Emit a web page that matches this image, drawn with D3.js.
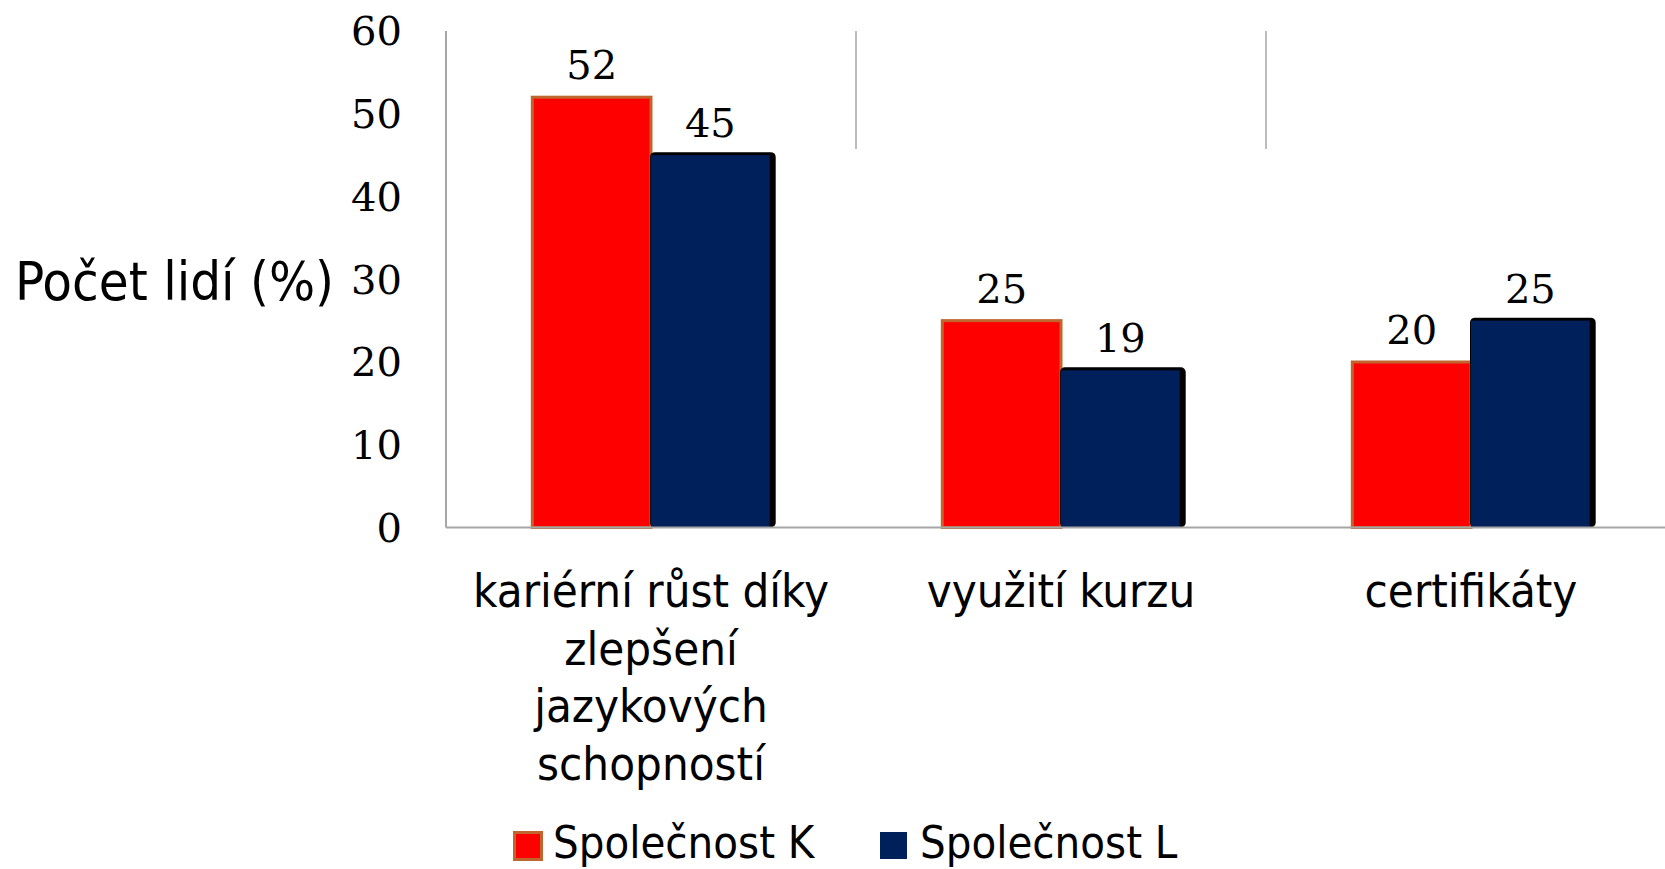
<!DOCTYPE html>
<html>
<head>
<meta charset="utf-8">
<script src="https://cdn.jsdelivr.net/npm/d3@7"></script>
<style>
  body { margin: 0; background: #fff; }
  .sans { font-family: "DejaVu Sans Condensed", "DejaVu Sans", sans-serif; font-stretch: condensed; }
  .num { font-family: "DejaVu Serif", "Liberation Serif", serif; }
</style>
</head>
<body>
<div id="chart"></div>
<script>
const categories = [
  ['kariérní růst díky', 'zlepšení', 'jazykových', 'schopností'],
  ['využití kurzu'],
  ['certifikáty']
];
const seriesNames = ['Společnost K', 'Společnost L'];
const valuesK = [52, 25, 20];
const valuesL = [45, 19, 25];
const yTicks = [0, 10, 20, 30, 40, 50, 60];

const width = 1665;
const height = 869;
const margin = { top: 31, bottom: 341.5, left: 446, right: -11 };

const svg = d3.select('#chart')
  .append('svg')
  .attr('width', width)
  .attr('height', height);

const x = d3.scaleBand()
  .domain(d3.range(categories.length))
  .range([margin.left, width - margin.right])
  .paddingInner(0)
  .paddingOuter(0);

const x1 = d3.scaleBand()
  .domain([0, 1])
  .range([0, x.bandwidth()])
  .paddingOuter(0.727)
  .paddingInner(0);

const y = d3.scaleLinear()
  .domain([0, 60])
  .range([height - margin.bottom, margin.top]);

const base = y(0);

// partial vertical lines between categories
svg.append('g')
  .selectAll('line')
  .data(d3.range(1, categories.length))
  .join('line')
    .attr('x1', i => x(i))
    .attr('x2', i => x(i))
    .attr('y1', margin.top)
    .attr('y2', 149)
    .attr('stroke', '#a6a6a6')
    .attr('stroke-width', 1.5);

// y axis line
svg.append('line')
  .attr('x1', margin.left).attr('x2', margin.left)
  .attr('y1', margin.top).attr('y2', base)
  .attr('stroke', '#a6a6a6')
  .attr('stroke-width', 2);

// y tick labels
svg.append('g')
  .attr('class', 'num')
  .selectAll('text')
  .data(yTicks)
  .join('text')
    .attr('x', 402)
    .attr('y', d => y(d))
    .attr('dy', '0.36em')
    .attr('text-anchor', 'end')
    .attr('font-size', 40)
    .text(d => d);

// series K
const gK = svg.append('g');
gK.selectAll('rect')
  .data(valuesK)
  .join('rect')
    .attr('x', (d, i) => x(i) + x1(0))
    .attr('y', d => y(d))
    .attr('width', x1.bandwidth())
    .attr('height', d => base - y(d))
    .attr('fill', '#ff0000')
    .attr('stroke', '#c0652e')
    .attr('stroke-width', 3);

// series L with dark shadow edge
const gL = svg.append('g');
gL.selectAll('rect.shadow')
  .data(valuesL)
  .join('rect')
    .attr('class', 'shadow')
    .attr('x', (d, i) => x(i) + x1(1) - 1)
    .attr('y', d => y(d) - 3)
    .attr('width', x1.bandwidth() + 7)
    .attr('height', d => base - y(d) + 3)
    .attr('rx', 5)
    .attr('fill', '#000');
gL.selectAll('rect.bar')
  .data(valuesL)
  .join('rect')
    .attr('class', 'bar')
    .attr('x', (d, i) => x(i) + x1(1))
    .attr('y', d => y(d))
    .attr('width', x1.bandwidth())
    .attr('height', d => base - y(d))
    .attr('fill', '#00205b');

// baseline
svg.append('line')
  .attr('x1', margin.left).attr('x2', width)
  .attr('y1', base).attr('y2', base)
  .attr('stroke', '#a6a6a6')
  .attr('stroke-width', 2);

// value labels
const labels = svg.append('g').attr('class', 'num').attr('font-size', 40).attr('text-anchor', 'middle');
labels.selectAll('text.k')
  .data(valuesK)
  .join('text')
    .attr('class', 'k')
    .attr('x', (d, i) => x(i) + x1(0) + x1.bandwidth() / 2)
    .attr('y', d => y(d) - 18)
    .text(d => d);
labels.selectAll('text.l')
  .data(valuesL)
  .join('text')
    .attr('class', 'l')
    .attr('x', (d, i) => x(i) + x1(1) + x1.bandwidth() / 2)
    .attr('y', d => y(d) - 18)
    .text(d => d);

// category labels
const cat = svg.append('g')
  .attr('class', 'sans')
  .attr('font-size', 47)
  .attr('text-anchor', 'middle')
  .selectAll('text')
  .data(categories)
  .join('text')
    .attr('x', (d, i) => x(i) + x.bandwidth() / 2)
    .attr('y', 607);
cat.selectAll('tspan')
  .data(d => d)
  .join('tspan')
    .attr('x', function () { return d3.select(this.parentNode).attr('x'); })
    .attr('dy', (d, i) => i === 0 ? 0 : 57.5)
    .text(d => d);

// y axis title
svg.append('text')
  .attr('class', 'sans')
  .attr('x', 15)
  .attr('y', 300)
  .attr('font-size', 54)
  .text('Počet lidí (%)');

// legend
const legendX = [513, 880];
const legend = svg.append('g').attr('class', 'sans');
legend.selectAll('rect')
  .data(seriesNames)
  .join('rect')
    .attr('x', (d, i) => legendX[i] + (i === 0 ? 1.5 : 0))
    .attr('y', (d, i) => i === 0 ? 832.5 : 832)
    .attr('width', (d, i) => i === 0 ? 27 : 27)
    .attr('height', 27)
    .attr('fill', (d, i) => i === 0 ? '#ff0000' : '#00205b')
    .attr('stroke', (d, i) => i === 0 ? '#c0652e' : 'none')
    .attr('stroke-width', 3);
legend.selectAll('text')
  .data(seriesNames)
  .join('text')
    .attr('x', (d, i) => legendX[i] + 40)
    .attr('y', 858)
    .attr('font-size', 45)
    .text(d => d);
</script>
</body>
</html>
